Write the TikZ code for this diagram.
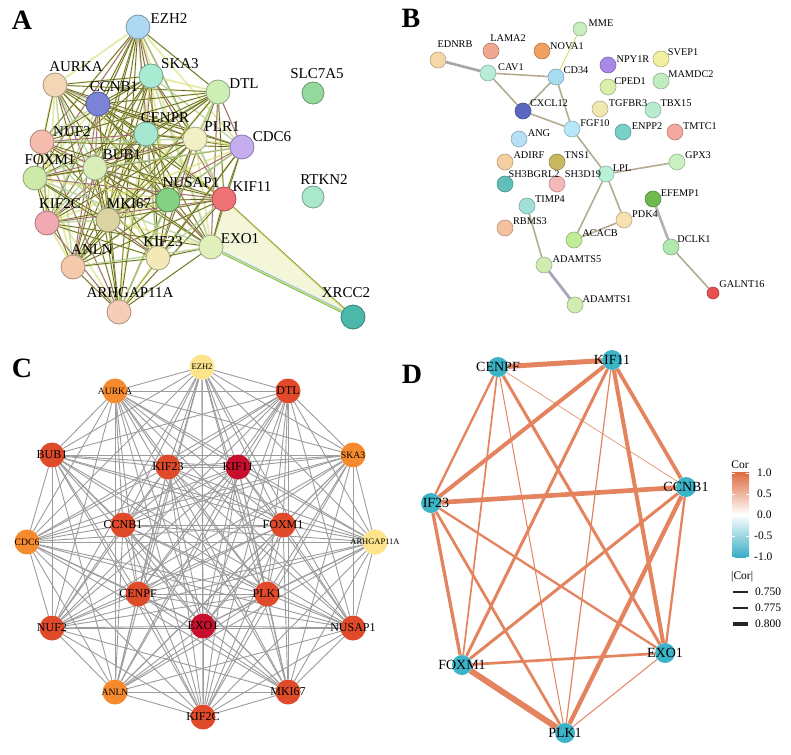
\documentclass[tikz,border=0pt]{standalone}
\usepackage{fontspec}
\setmainfont{Liberation Serif}
\usetikzlibrary{backgrounds}
% panel A colours
\definecolor{Aezh}{HTML}{AED8F2}\definecolor{Aaur}{HTML}{F3D6B5}\definecolor{Aska}{HTML}{A9EAD2}
\definecolor{Accn}{HTML}{7B84D6}\definecolor{Adtl}{HTML}{CDEEB5}\definecolor{Acen}{HTML}{A5E8CF}
\definecolor{Anuf}{HTML}{F5BCAE}\definecolor{Aplr}{HTML}{F1EFC4}\definecolor{Acdc}{HTML}{C4AEF0}
\definecolor{Afox}{HTML}{CDEAA8}\definecolor{Abub}{HTML}{D9EEB9}\definecolor{Anus}{HTML}{85D084}
\definecolor{Akif}{HTML}{EF7274}\definecolor{Ak2c}{HTML}{F1A9B4}\definecolor{Amki}{HTML}{DBD3A2}
\definecolor{Aexo}{HTML}{E2F0BC}\definecolor{Ak23}{HTML}{F2E9B6}\definecolor{Aanl}{HTML}{F5C9AB}
\definecolor{Aarh}{HTML}{F8CDB6}\definecolor{Aslc}{HTML}{94D99E}\definecolor{Artk}{HTML}{A9E8CB}
\definecolor{Axrc}{HTML}{4CB8AA}
\definecolor{eYel}{HTML}{D4DC6A}\definecolor{eDark}{HTML}{3E3E16}\definecolor{ePur}{HTML}{8E3E8E}
\definecolor{eBlu}{HTML}{88C0E0}\definecolor{eGrn}{HTML}{6AB048}\definecolor{eTint}{HTML}{F4F6DA}
% panel B colours
\definecolor{Bmme}{HTML}{C8EEC0}\definecolor{Bedn}{HTML}{F5D8A8}\definecolor{Blam}{HTML}{F0A890}
\definecolor{Bnov}{HTML}{F0A060}\definecolor{Bnpy}{HTML}{A888E8}\definecolor{Bsve}{HTML}{F0F0A0}
\definecolor{Bcav}{HTML}{B8ECD8}\definecolor{Bcd3}{HTML}{A8DCF0}\definecolor{Bmam}{HTML}{C0ECC0}
\definecolor{Bcpe}{HTML}{D8F0A8}\definecolor{Bcxc}{HTML}{5A68C0}\definecolor{Btgf}{HTML}{F0E8B0}
\definecolor{Btbx}{HTML}{B8ECD0}\definecolor{Bfgf}{HTML}{B8E8F8}\definecolor{Benp}{HTML}{78D0C8}
\definecolor{Btmt}{HTML}{F4A8A0}\definecolor{Bang}{HTML}{B8E0F4}\definecolor{Badi}{HTML}{F4D0A0}
\definecolor{Btns}{HTML}{C8B860}\definecolor{Bgpx}{HTML}{C8F0C0}\definecolor{Blpl}{HTML}{B8F0D8}
\definecolor{Bsh3}{HTML}{60C0B8}\definecolor{Bsh1}{HTML}{F4B8B8}\definecolor{Befe}{HTML}{70B850}
\definecolor{Btim}{HTML}{A0E0D8}\definecolor{Bpdk}{HTML}{F8E0B0}\definecolor{Brbm}{HTML}{F4C0A0}
\definecolor{Baca}{HTML}{C0EC98}\definecolor{Bdcl}{HTML}{B0E8B0}\definecolor{Bada}{HTML}{D0ECB0}
\definecolor{Bgal}{HTML}{E85050}
\definecolor{Bedge}{HTML}{B4AC90}
% panel C colours
\definecolor{Cred}{HTML}{DF4A2A}\definecolor{Cdeep}{HTML}{C8102E}\definecolor{Corg}{HTML}{F58B2E}
\definecolor{Cyel}{HTML}{FDE38A}\definecolor{Cedge}{HTML}{9C9C9C}
% panel D colours
\definecolor{Dnode}{HTML}{3CB4C8}\definecolor{Dedge}{HTML}{E3845F}
\definecolor{corTop}{HTML}{DE6A40}\definecolor{corBot}{HTML}{3AAEC6}
\begin{document}
\begin{tikzpicture}[x=1pt,y=-1pt,
  panel/.style={font=\fontsize{28}{28}\selectfont\bfseries, inner sep=0},
  nodeA/.style={circle, minimum size=24pt, inner sep=0, fill=#1, draw=#1!70!black, line width=0.8pt},
  labA/.style={font=\fontsize{15}{15}\selectfont, inner sep=0},
  aYel/.style={eYel, line width=1.7pt, opacity=0.6},
  aDark/.style={eDark, line width=0.7pt, opacity=0.8},
  aPur/.style={ePur, line width=0.8pt, opacity=0.8},
  aBlu/.style={eBlu, line width=0.6pt, opacity=0.7},
  nodeB/.style={circle, minimum size=16pt, inner sep=0, fill=#1, draw=#1!75!black, line width=0.6pt},
  labB/.style={font=\fontsize{10.3}{10.3}\selectfont, inner sep=0},
  edgeB/.style={Bedge, line width=1.6pt},
  nodeC/.style={circle, minimum size=25pt, inner sep=0, fill=#1},
  labC/.style={font=\fontsize{12}{12}\selectfont, inner sep=0},
  labCo/.style={font=\fontsize{9.7}{9.7}\selectfont, inner sep=0},
  labCy/.style={font=\fontsize{8.5}{8.5}\selectfont, inner sep=0},
  edgeC/.style={Cedge, line width=0.9pt},
  nodeD/.style={circle, minimum size=20pt, inner sep=0, fill=Dnode},
  labD/.style={font=\fontsize{14}{14}\selectfont, inner sep=0},
  edgeD/.style={Dedge},
  legD/.style={font=\fontsize{11.5}{11.5}\selectfont, inner sep=0, anchor=west}
]
\useasboundingbox (0,0) rectangle (791,754);
% ---------------- panel letters
\node[panel] (pA) at (22,20) {A};
\node[panel] (pB) at (411,18) {B};
\node[panel] (pC) at (22,368) {C};
\node[panel] (pD) at (412,374) {D};
% ---------------- panel A nodes
\node[nodeA=Aezh] (a1) at (138,27) {};
\node[nodeA=Aaur] (a2) at (55,85) {};
\node[nodeA=Aska] (a3) at (151,76) {};
\node[nodeA=Accn] (a4) at (98,104) {};
\node[nodeA=Adtl] (a5) at (218,92) {};
\node[nodeA=Acen] (a6) at (146,134) {};
\node[nodeA=Anuf] (a7) at (42,142) {};
\node[nodeA=Aplr] (a8) at (195,139) {};
\node[nodeA=Acdc] (a9) at (242,147) {};
\node[nodeA=Afox] (a10) at (35,178) {};
\node[nodeA=Abub] (a11) at (95,168) {};
\node[nodeA=Anus] (a12) at (168,200) {};
\node[nodeA=Akif] (a13) at (224,199) {};
\node[nodeA=Ak2c] (a14) at (47,223) {};
\node[nodeA=Amki] (a15) at (108,220) {};
\node[nodeA=Aexo] (a16) at (211,247) {};
\node[nodeA=Ak23] (a17) at (158,258) {};
\node[nodeA=Aanl] (a18) at (73,267) {};
\node[nodeA=Aarh] (a19) at (119,312) {};
\node[nodeA=Aslc, minimum size=22pt] (aslc) at (313,93) {};
\node[nodeA=Artk, minimum size=22pt] (artk) at (313,197) {};
\node[nodeA=Axrc] (axrc) at (353,317) {};
% labels A
\node[labA] (la1) at (169,19) {EZH2};
\node[labA] (la2) at (76,67) {AURKA};
\node[labA] (la3) at (180,64) {SKA3};
\node[labA] (la4) at (114,87) {CCNB1};
\node[labA] (la5) at (244,84) {DTL};
\node[labA] (la6) at (165,118) {CENPR};
\node[labA] (la7) at (72,132) {NUF2};
\node[labA] (la8) at (222,127) {PLR1};
\node[labA] (la9) at (272,137) {CDC6};
\node[labA] (la10) at (50,160) {FOXM1};
\node[labA] (la11) at (122,155) {BUB1};
\node[labA] (la12) at (191,183) {NUSAP1};
\node[labA] (la13) at (252,187) {KIF11};
\node[labA] (la14) at (60,204) {KIF2C};
\node[labA] (la15) at (129,204) {MKI67};
\node[labA] (la16) at (240,239) {EXO1};
\node[labA] (la17) at (163,242) {KIF23};
\node[labA] (la18) at (92,250) {ANLN};
\node[labA] (la19) at (130,293) {ARHGAP11A};
\node[labA] (laslc) at (317,74) {SLC7A5};
\node[labA] (lartk) at (324,180) {RTKN2};
\node[labA] (laxrc) at (346,293) {XRCC2};
% ---------------- panel B nodes
\node[nodeB=Bmme, minimum size=14pt] (b1) at (580,29) {};
\node[nodeB=Bedn] (b2) at (438,60) {};
\node[nodeB=Blam] (b3) at (491,51) {};
\node[nodeB=Bnov] (b4) at (542,51) {};
\node[nodeB=Bnpy] (b5) at (608,65) {};
\node[nodeB=Bsve] (b6) at (661,59) {};
\node[nodeB=Bcav] (b7) at (488,73) {};
\node[nodeB=Bcd3] (b8) at (556,77) {};
\node[nodeB=Bmam] (b9) at (661,81) {};
\node[nodeB=Bcpe] (b10) at (608,87) {};
\node[nodeB=Bcxc] (b11) at (523,111) {};
\node[nodeB=Btgf] (b12) at (600,109) {};
\node[nodeB=Btbx] (b13) at (653,110) {};
\node[nodeB=Bfgf] (b14) at (572,129) {};
\node[nodeB=Benp] (b15) at (623,132) {};
\node[nodeB=Btmt] (b16) at (675,132) {};
\node[nodeB=Bang] (b17) at (519,139) {};
\node[nodeB=Badi] (b18) at (505,162) {};
\node[nodeB=Btns] (b19) at (557,162) {};
\node[nodeB=Bgpx] (b20) at (677,162) {};
\node[nodeB=Blpl] (b21) at (606,174) {};
\node[nodeB=Bsh3] (b22) at (505,184) {};
\node[nodeB=Bsh1] (b23) at (557,184) {};
\node[nodeB=Befe] (b24) at (653,199) {};
\node[nodeB=Btim] (b25) at (527,206) {};
\node[nodeB=Bpdk] (b26) at (624,220) {};
\node[nodeB=Brbm] (b27) at (505,228) {};
\node[nodeB=Baca] (b28) at (574,240) {};
\node[nodeB=Bdcl] (b29) at (671,247) {};
\node[nodeB=Bada] (b30) at (544,265) {};
\node[nodeB=Bgal, minimum size=12pt] (b31) at (713,293) {};
\node[nodeB=Bada] (b32) at (575,305) {};
% labels B
\node[labB] (lb1) at (601,23) {MME};
\node[labB] (lb2) at (455,44) {EDNRB};
\node[labB] (lb3) at (508,38) {LAMA2};
\node[labB] (lb4) at (567,46) {NOVA1};
\node[labB] (lb5) at (633,59) {NPY1R};
\node[labB] (lb6) at (683,52) {SVEP1};
\node[labB] (lb7) at (511,67) {CAV1};
\node[labB] (lb8) at (576,70) {CD34};
\node[labB] (lb9) at (691,74) {MAMDC2};
\node[labB] (lb10) at (630,81) {CPED1};
\node[labB] (lb11) at (549,103) {CXCL12};
\node[labB] (lb12) at (628,103) {TGFBR3};
\node[labB] (lb13) at (676,103) {TBX15};
\node[labB] (lb14) at (595,123) {FGF10};
\node[labB] (lb15) at (647,126) {ENPP2};
\node[labB] (lb16) at (700,126) {TMTC1};
\node[labB] (lb17) at (539,133) {ANG};
\node[labB] (lb18) at (529,155) {ADIRF};
\node[labB] (lb19) at (577,155) {TNS1};
\node[labB] (lb20) at (698,155) {GPX3};
\node[labB] (lb21) at (622,168) {LPL};
\node[labB] (lb22) at (534,174) {SH3BGRL2};
\node[labB] (lb23) at (583,174) {SH3D19};
\node[labB] (lb24) at (680,193) {EFEMP1};
\node[labB] (lb25) at (550,199) {TIMP4};
\node[labB] (lb26) at (645,214) {PDK4};
\node[labB] (lb27) at (530,221) {RBMS3};
\node[labB] (lb28) at (600,233) {ACACB};
\node[labB] (lb29) at (694,239) {DCLK1};
\node[labB] (lb30) at (577,259) {ADAMTS5};
\node[labB] (lb31) at (742,284) {GALNT16};
\node[labB] (lb32) at (607,299) {ADAMTS1};
% ---------------- panel C nodes
\node[nodeC=Cyel]  (c1) at (202,367) {}; \node[labCy] at (c1) {EZH2};
\node[nodeC=Corg]  (c2) at (115,391) {}; \node[labCo] at (c2) {AURKA};
\node[nodeC=Cred]  (c3) at (288,391) {}; \node[labC] at (c3) {DTL};
\node[nodeC=Cred]  (c4) at (52,455) {};  \node[labC] at (c4) {BUB1};
\node[nodeC=Cred]  (c5) at (168,467) {}; \node[labC] at (c5) {KIF23};
\node[nodeC=Cdeep] (c6) at (238,467) {}; \node[labC] at (c6) {KIF11};
\node[nodeC=Corg]  (c7) at (353,455) {}; \node[labCo] at (c7) {SKA3};
\node[nodeC=Cred]  (c8) at (123,525) {}; \node[labC] at (c8) {CCNB1};
\node[nodeC=Cred]  (c9) at (283,525) {}; \node[labC] at (c9) {FOXM1};
\node[nodeC=Corg]  (c10) at (27,542) {}; \node[labCo] at (c10) {CDC6};
\node[nodeC=Cyel]  (c11) at (375,542) {}; \node[labCy] at (c11) {ARHGAP11A};
\node[nodeC=Cred]  (c12) at (138,594) {}; \node[labC] at (c12) {CENPF};
\node[nodeC=Cred]  (c13) at (267,594) {}; \node[labC] at (c13) {PLK1};
\node[nodeC=Cred]  (c14) at (52,628) {};  \node[labC] at (c14) {NUF2};
\node[nodeC=Cdeep] (c15) at (203,626) {}; \node[labC] at (c15) {EXO1};
\node[nodeC=Cred]  (c16) at (353,628) {}; \node[labC] at (c16) {NUSAP1};
\node[nodeC=Corg]  (c17) at (115,692) {}; \node[labCo] at (c17) {ANLN};
\node[nodeC=Cred]  (c18) at (288,692) {}; \node[labC] at (c18) {MKI67};
\node[nodeC=Cred]  (c19) at (203,717) {}; \node[labC] at (c19) {KIF2C};
% ---------------- panel D nodes
\node[nodeD] (dC) at (498,367) {}; \node[labD] at (dC) {CENPF};
\node[nodeD] (dK) at (612,360) {}; \node[labD] at (dK) {KIF11};
\node[nodeD] (dB) at (686,487) {}; \node[labD] at (dB) {CCNB1};
\node[nodeD] (dI) at (431,503) {}; \node[labD] at (436,503) {IF23};
\node[nodeD] (dE) at (665,653) {}; \node[labD] at (dE) {EXO1};
\node[nodeD] (dF) at (462,665) {}; \node[labD] at (dF) {FOXM1};
\node[nodeD] (dP) at (565,733) {}; \node[labD] at (dP) {PLK1};
% legend D
\node[font=\fontsize{11.5}{11.5}\selectfont, inner sep=0] (lcor) at (740,465) {Cor};
\shade[top color=corTop, bottom color=corBot, middle color=white] (732,472) rectangle (749,557);
\foreach \yy in {473,494,515,536,557}{
  \draw[white, line width=0.6pt] (732,\yy) -- (735,\yy);
  \draw[white, line width=0.6pt] (746,\yy) -- (749,\yy);
}
\node[legD] (t1) at (757,473) {1.0};
\node[legD] (t2) at (757,494) {0.5};
\node[legD] (t3) at (757,515) {0.0};
\node[legD] (t4) at (754,536) {-0.5};
\node[legD] (t5) at (754,557) {-1.0};
\node[legD] (labs) at (731,577) {|Cor|};
\coordinate (w1a) at (733,592); \coordinate (w1b) at (748,592);
\coordinate (w2a) at (733,608); \coordinate (w2b) at (748,608);
\coordinate (w3a) at (733,624); \coordinate (w3b) at (748,624);
\draw[black!85, line width=1.5pt] (w1a) -- (w1b);
\draw[black!85, line width=2.8pt] (w2a) -- (w2b);
\draw[black!85, line width=4pt] (w3a) -- (w3b);
\node[legD] (v1) at (755,592) {0.750};
\node[legD] (v2) at (755,608) {0.775};
\node[legD] (v3) at (755,624) {0.800};
% ---------------- edges (background)
\begin{pgfonlayer}{background}
\fill[white] (0,0) rectangle (791,754);
% panel A
\fill[eTint] (a16.center) -- (a13.center) -- (axrc.center) -- cycle;
\foreach \i in {1,...,19}{\foreach \j in {1,...,19}{
  \ifnum\i<\j
    \draw[aYel] (a\i) -- (a\j);
    \pgfmathtruncatemacro{\k}{mod(\i*3+\j*5,7)}
    \ifnum\k<4 \draw[aDark] (a\i) -- (a\j);\fi
    \ifnum\k=4 \draw[aPur] (a\i) -- (a\j);\fi
    \ifnum\k=5 \draw[aBlu] (a\i) -- (a\j);\fi
  \fi}}
\draw[eYel, line width=1.4pt] (a16) -- (axrc);
\draw[eBlu, line width=0.8pt, transform canvas={yshift=1.2pt}] (a16) -- (axrc);
\draw[eGrn, line width=0.6pt, transform canvas={yshift=-1.2pt}] (a16) -- (axrc);
\draw[eYel, line width=1.4pt] (a13) -- (axrc);
\draw[eDark, line width=0.5pt, opacity=0.6, transform canvas={xshift=1pt}] (a13) -- (axrc);
% panel B
\draw[edgeB, line width=2.6pt, color=black!35] (b2) -- (b7);
\draw[edgeB] (b7) -- (b8);
\draw[edgeB] (b7) -- (b11);
\draw[edgeB] (b8) -- (b11);
\draw[edgeB] (b8) -- (b14);
\draw[edgeB, line width=0.9pt, color=eYel] (b8) -- (b1);
\draw[edgeB] (b11) -- (b14);
\draw[edgeB] (b14) -- (b21);
\draw[edgeB] (b21) -- (b20);
\draw[edgeB] (b21) -- (b28);
\draw[edgeB] (b21) -- (b26);
\draw[edgeB] (b26) -- (b28);
\draw[edgeB] (b25) -- (b30);
\draw[edgeB, line width=2.8pt, color=blue!25!black!35] (b30) -- (b32);
\draw[edgeB, line width=2.6pt, color=black!30] (b24) -- (b29);
\draw[edgeB] (b29) -- (b31);
% panel C
\foreach \i in {1,...,19}{\foreach \j in {1,...,19}{
  \ifnum\i<\j \draw[edgeC] (c\i) -- (c\j);\fi}}
% panel D
\draw[edgeD, line width=5pt] (dC) -- (dK);
\draw[edgeD, line width=0.6pt] (dC) -- (dB);
\draw[edgeD, line width=2.3pt] (dC) -- (dI);
\draw[edgeD, line width=1.7pt] (dC) -- (dF);
\draw[edgeD, line width=1pt] (dC) -- (dP);
\draw[edgeD, line width=3pt] (dC) -- (dE);
\draw[edgeD, line width=4pt] (dK) -- (dI);
\draw[edgeD, line width=3.7pt] (dK) -- (dB);
\draw[edgeD, line width=3pt] (dK) -- (dF);
\draw[edgeD, line width=1.2pt] (dK) -- (dP);
\draw[edgeD, line width=4pt] (dK) -- (dE);
\draw[edgeD, line width=4.7pt] (dB) -- (dI);
\draw[edgeD, line width=3pt] (dB) -- (dF);
\draw[edgeD, line width=4.3pt] (dB) -- (dP);
\draw[edgeD, line width=2.3pt] (dB) -- (dE);
\draw[edgeD, line width=3.3pt] (dI) -- (dF);
\draw[edgeD, line width=2.7pt] (dI) -- (dP);
\draw[edgeD, line width=2.3pt] (dI) -- (dE);
\draw[edgeD, line width=2.7pt] (dF) -- (dE);
\draw[edgeD, line width=6pt] (dF) -- (dP);
\draw[edgeD, line width=1pt] (dE) -- (dP);
\end{pgfonlayer}
\end{tikzpicture}
\end{document}
